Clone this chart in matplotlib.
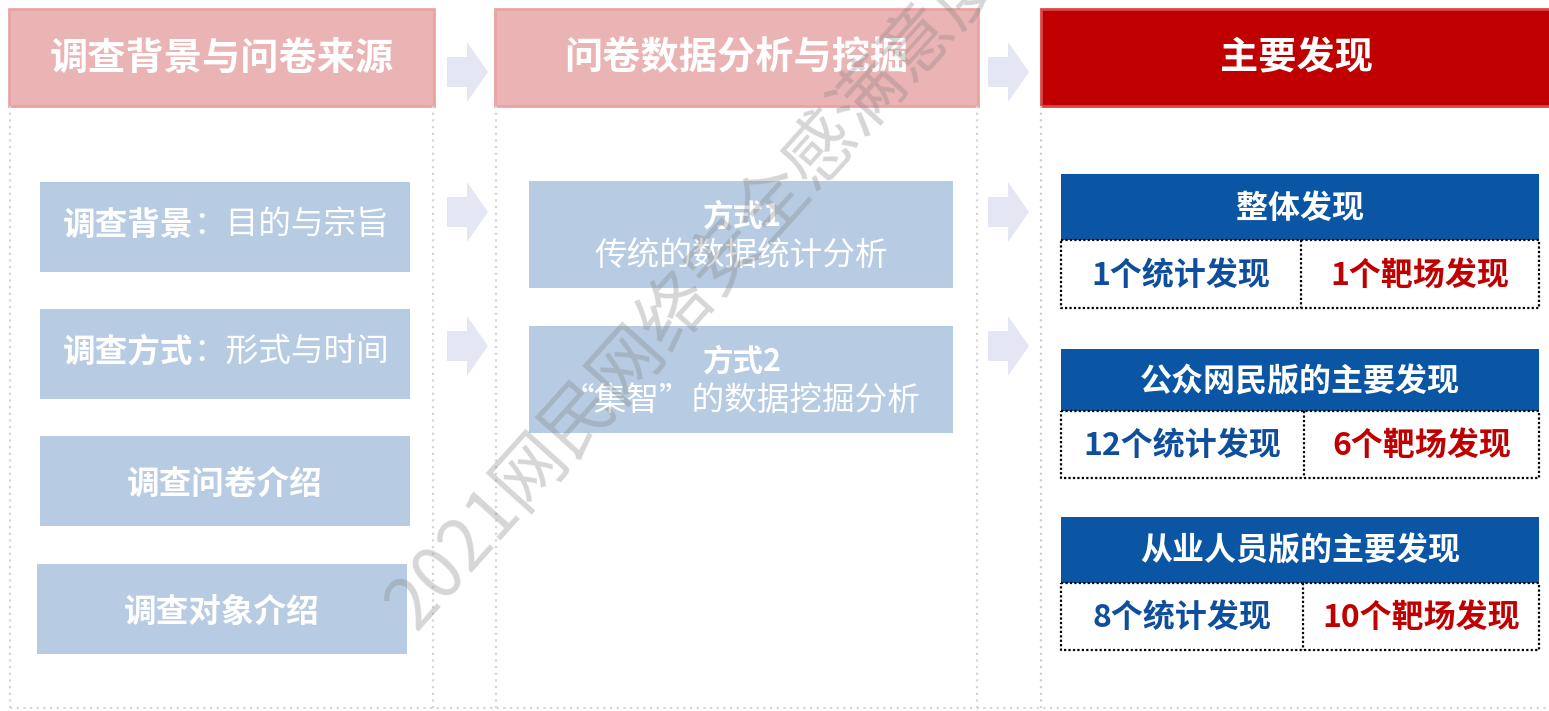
import matplotlib
matplotlib.use("Agg")
import matplotlib.pyplot as plt
from matplotlib.patches import Rectangle, Polygon

plt.rcParams['font.family'] = ['Noto Sans CJK SC', 'DejaVu Sans']

# text content
headers = ["调查背景与问卷来源", "问卷数据分析与挖掘", "主要发现"]
left_bold = ["调查背景", "调查方式", "调查问卷介绍", "调查对象介绍"]
left_light = ["：目的与宗旨", "：形式与时间", "", ""]
mid_bold = ["方式1", "方式2"]
mid_light = ["传统的数据统计分析", "“集智”的数据挖掘分析"]
find_titles = ["整体发现", "公众网民版的主要发现", "从业人员版的主要发现"]
stat_counts = [1, 12, 8]
range_counts = [1, 6, 10]
watermark = "2021网民网络安全感满意度"

# layout (pixel units)
W, H = 1549, 711
header_x = [(9, 434), (495, 978), (1041, 1560)]
left_boxes = [(40, 182), (40, 309), (40, 436), (37, 564)]
mid_boxes = [(529, 181), (529, 326)]
find_y = [(174, 240, 308, 1301), (349, 411, 478, 1304), (517, 583, 650, 1303)]

pink = "#EBB4B4"
pale_blue = "#B7CCE3"
dark_blue = "#0B56A4"
red = "#C00000"
arrow_col = "#E4E7F3"
dot_grey = "#D6D6D6"

fig = plt.figure(figsize=(W / 100, H / 100), dpi=100)
ax = fig.add_axes([0, 0, 1, 1])
ax.set_xlim(0, W)
ax.set_ylim(H, 0)
ax.axis("off")

# dotted column outlines
for (x0, x1) in [(10, 433), (496, 977)]:
    ax.plot([x0, x0], [106, 708], color=dot_grey, lw=1.6, ls=(0, (1, 2)))
    ax.plot([x1, x1], [106, 708], color=dot_grey, lw=1.6, ls=(0, (1, 2)))
ax.plot([1041, 1041], [106, 708], color="#CFCFCF", lw=1.6, ls=(0, (1, 2)))
ax.plot([10, 1549], [708, 708], color=dot_grey, lw=1.6, ls=(0, (1, 2)))

# headers
for i, (x0, x1) in enumerate(header_x):
    fc = red if i == 2 else pink
    ec = "#D94848" if i == 2 else "#E9A3A3"
    ax.add_patch(Rectangle((x0, 9), x1 - x0, 97, fc=fc, ec=ec, lw=2))
    cx = (x0 + x1) / 2 if i < 2 else 1297
    ax.text(cx, 58, headers[i], color="white", fontsize=27.5, fontweight="bold",
            ha="center", va="center")

# arrows
def arrow(x0, cy):
    pts = [(x0, cy - 15), (x0 + 20, cy - 15), (x0 + 20, cy - 30), (x0 + 41, cy),
           (x0 + 20, cy + 30), (x0 + 20, cy + 15), (x0, cy + 15)]
    ax.add_patch(Polygon(pts, closed=True, fc=arrow_col, ec="none"))

for cy in [72, 212, 346]:
    arrow(447, cy)
    arrow(988, cy)

# left column boxes
for i, (x, y) in enumerate(left_boxes):
    ax.add_patch(Rectangle((x, y), 370, 90, fc=pale_blue, ec="none"))
    if left_light[i]:
        ax.text(x + 153, y + 43, left_bold[i], color="white", fontsize=23.5,
                fontweight="bold", ha="right", va="center")
        ax.text(x + 153, y + 43, left_light[i], color="white", fontsize=23.5,
                ha="left", va="center")
    else:
        ax.text(x + 185, y + 48, left_bold[i], color="white", fontsize=23.5,
                fontweight="bold", ha="center", va="center")

# middle column boxes
for i, (x, y) in enumerate(mid_boxes):
    ax.add_patch(Rectangle((x, y), 424, 107, fc=pale_blue, ec="none"))
    ax.text(x + 213, y + 36, mid_bold[i], color="white", fontsize=22,
            fontweight="bold", ha="center", va="center")
    ax.text(x + 212, y + 75, mid_light[i], color="white", fontsize=23.5,
            ha="center", va="center")

# findings
for i, (y0, y1, y2, xs) in enumerate(find_y):
    ax.add_patch(Rectangle((1061, y0), 478, y1 - y0, fc=dark_blue, ec="none"))
    ax.text(1300, (y0 + y1) / 2 + 2, find_titles[i], color="white", fontsize=23,
            fontweight="bold", ha="center", va="center")
    dot = dict(color="black", lw=1.6, ls=(0, (1, 1)))
    ax.plot([1061, 1539, 1539, 1061, 1061], [y1, y1, y2, y2, y1], **dot)
    ax.plot([xs, xs], [y1, y2], **dot)
    ax.text((1061 + xs) / 2, (y1 + y2) / 2 + 2, "%d个统计发现" % stat_counts[i],
            color="#0E4E9C", fontsize=23, fontweight="bold", ha="center", va="center")
    ax.text((xs + 1539) / 2, (y1 + y2) / 2 + 2, "%d个靶场发现" % range_counts[i],
            color=red, fontsize=23, fontweight="bold", ha="center", va="center")

# watermark
ax.text(400, 618, watermark, color="#808080", alpha=0.32, fontsize=52,
        rotation=48, rotation_mode="anchor", ha="left", va="center", zorder=10)

fig.savefig("out.png", dpi=100)
